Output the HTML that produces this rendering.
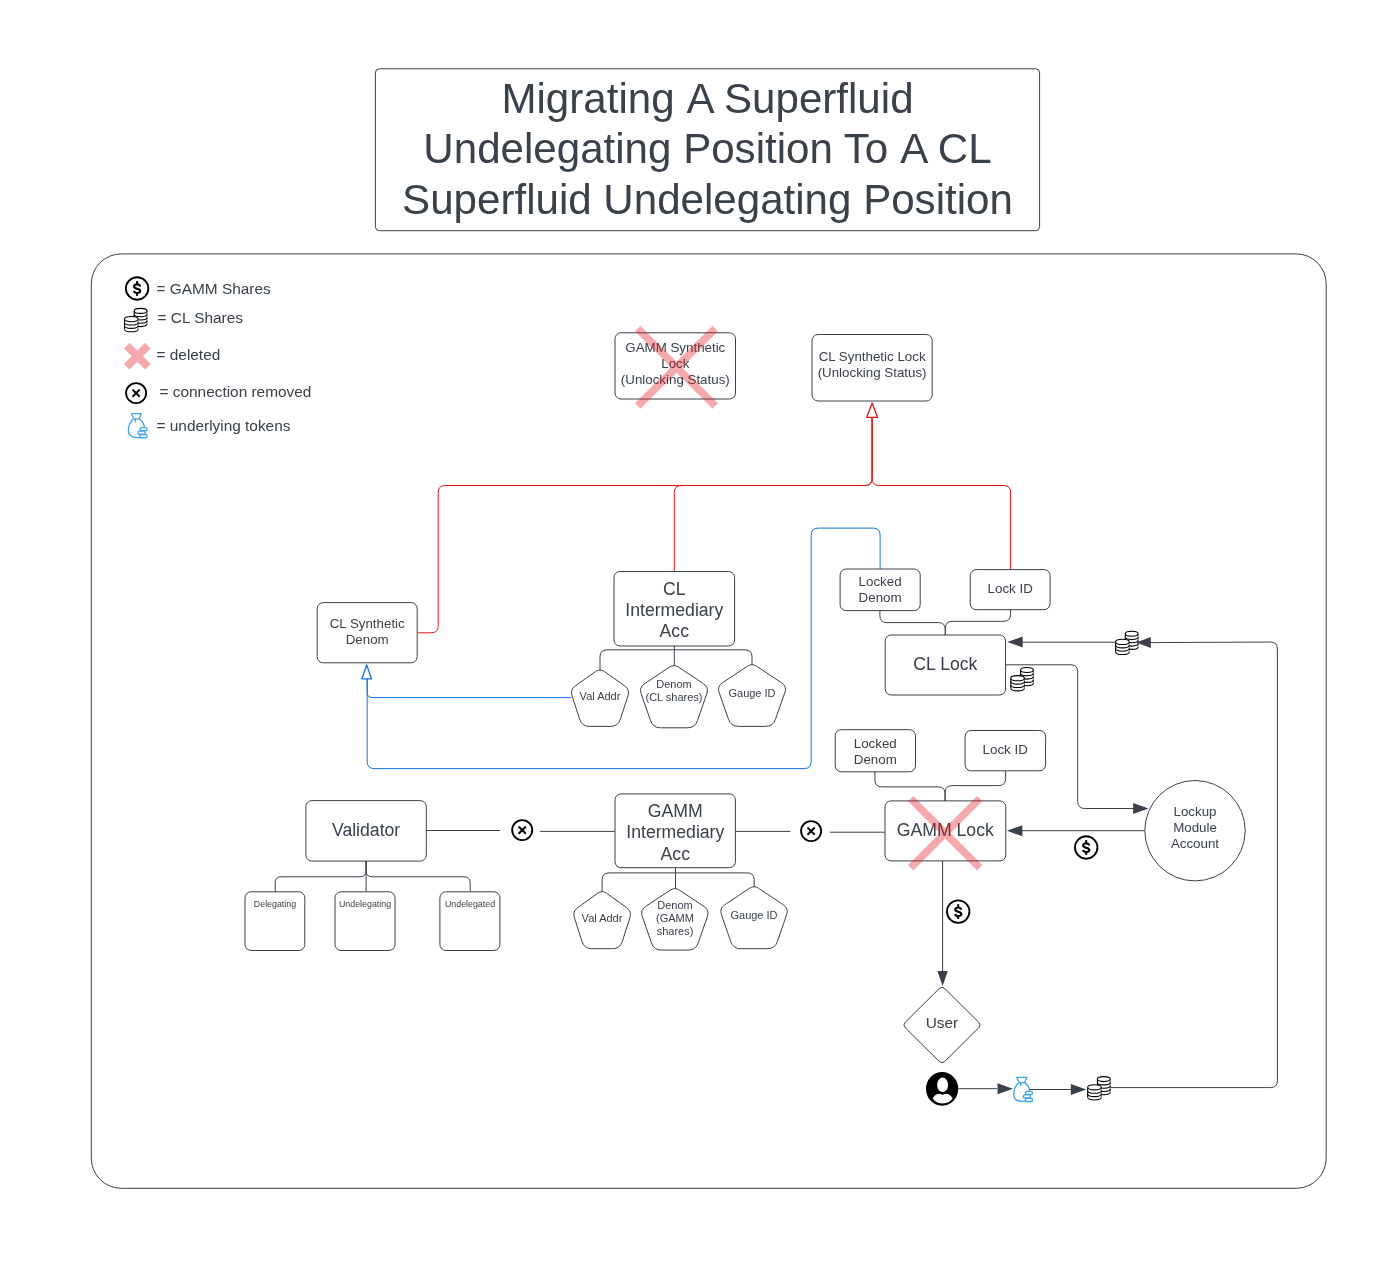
<!DOCTYPE html>
<html><head><meta charset="utf-8"><title>Migrating A Superfluid Undelegating Position</title>
<style>html,body{margin:0;padding:0;background:#fff}svg{display:block;will-change:transform}text{font-family:"Liberation Sans",sans-serif;fill:#3a414a}</style>
</head><body>
<svg width="1395" height="1285" viewBox="0 0 1395 1285">
<rect width="1395" height="1285" fill="#fff"/>
<rect x="375.40" y="68.80" width="664.20" height="161.90" rx="4" fill="#fff" stroke="#3a414a" stroke-width="1"/>
<text x="707.50" y="112.60" font-size="42.1" text-anchor="middle">Migrating <tspan dx="2.6">A</tspan> Superfluid</text>
<text x="707.50" y="163.00" font-size="42.1" text-anchor="middle">Undelegating Position To <tspan dx="2.7">A</tspan> CL</text>
<text x="707.50" y="214.30" font-size="42.1" text-anchor="middle">Superfluid Undelegating Position</text>
<rect x="91.30" y="253.90" width="1234.90" height="934.40" rx="30" fill="none" stroke="#3a414a" stroke-width="1"/>
<circle cx="137.10" cy="288.50" r="11.25" fill="#fff" stroke="#000" stroke-width="1.85"/>
<g transform="translate(137.10 288.50) scale(1.0)">
<path d="M3.05 -1.9 C2.7 -3.5 1.6 -4.1 0 -4.1 C-1.8 -4.1 -3.05 -3.3 -3.05 -2.0 C-3.05 -0.6 -1.6 -0.2 0 0.25 C1.8 0.75 3.15 1.2 3.15 2.5 C3.15 3.7 1.9 4.45 0 4.45 C-1.7 4.45 -2.85 3.8 -3.15 2.35" fill="none" stroke="#000" stroke-width="2.1"/>
<rect x="-1" y="-7.4" width="2" height="3.2" fill="#000"/><rect x="-1" y="4.5" width="2" height="2.9" fill="#000"/>
</g>
<text x="156.50" y="293.85" font-size="15.4" text-anchor="start">= GAMM Shares</text>
<g transform="translate(124.00 307.90) scale(1.0)" fill="#fff" stroke="#000" stroke-width="1.08">
<path d="M10.20 3.00 L10.20 16.20 A6.40 2.50 0 0 0 23.00 16.20 L23.00 3.00 Z" stroke="none"/>
<path d="M10.20 3.00 L10.20 16.20" fill="none"/>
<path d="M23.00 3.00 L23.00 16.20" fill="none" stroke-width="0.6"/>
<path d="M10.20 6.30 A6.40 2.50 0 0 0 23.00 6.30" fill="none"/>
<path d="M10.20 9.60 A6.40 2.50 0 0 0 23.00 9.60" fill="none"/>
<path d="M10.20 12.90 A6.40 2.50 0 0 0 23.00 12.90" fill="none"/>
<path d="M10.20 16.20 A6.40 2.50 0 0 0 23.00 16.20" fill="none"/>
<ellipse cx="16.60" cy="3.00" rx="6.40" ry="2.50"/>
<path d="M0.50 11.20 L0.50 21.25 A6.80 2.60 0 0 0 14.10 21.25 L14.10 11.20 Z" stroke="none"/>
<path d="M0.50 11.20 L0.50 21.25" fill="none"/>
<path d="M14.10 11.20 L14.10 21.25" fill="none" stroke-width="0.6"/>
<path d="M0.50 14.55 A6.80 2.60 0 0 0 14.10 14.55" fill="none"/>
<path d="M0.50 17.90 A6.80 2.60 0 0 0 14.10 17.90" fill="none"/>
<path d="M0.50 21.25 A6.80 2.60 0 0 0 14.10 21.25" fill="none"/>
<ellipse cx="7.30" cy="11.20" rx="6.80" ry="2.60"/>
</g>
<text x="157.50" y="323.00" font-size="15.4" text-anchor="start">= CL Shares</text>
<g opacity="0.36">
<rect x="122.35" y="352.20" width="29.90" height="8.00" transform="rotate(45 137.30 356.20)" fill="#e8141c"/>
<rect x="122.35" y="352.20" width="29.90" height="8.00" transform="rotate(-45 137.30 356.20)" fill="#e8141c"/>
</g>
<text x="156.50" y="359.95" font-size="15.4" text-anchor="start">= deleted</text>
<circle cx="136.10" cy="393.10" r="10.05" fill="#fff" stroke="#000" stroke-width="1.85"/>
<path d="M133.20 390.20 L139.00 396.00 M139.00 390.20 L133.20 396.00" stroke="#000" stroke-width="2" stroke-linecap="square" fill="none"/>
<text x="159.50" y="396.60" font-size="15.4" text-anchor="start">= connection removed</text>
<g transform="translate(127.80 412.90) scale(1.0)" fill="none" stroke="#42a5f5" stroke-width="1.35" stroke-linejoin="round" stroke-linecap="round">
<path d="M3.6 0.7 L13.6 0.7 L11.4 5.9 L5.8 5.9 Z"/>
<path d="M5.8 5.9 C2.6 8.6 0.6 12.6 0.6 17.2 C0.6 22.4 3.8 24.7 9.0 24.7 L11.6 24.7 M11.4 5.9 C14.4 8.2 16.3 11.2 16.6 14.6"/>
<path d="M7.5 6.2 L7.5 8.8"/>
<rect x="12.15" y="14.65" width="7.2" height="3.1" rx="1.55" fill="#fff"/>
<rect x="10.15" y="18.20" width="7.2" height="3.1" rx="1.55" fill="#fff"/>
<rect x="12.15" y="21.75" width="7.2" height="3.1" rx="1.55" fill="#fff"/>
</g>
<text x="156.50" y="430.75" font-size="15.4" text-anchor="start">= underlying tokens</text>
<rect x="615.00" y="332.80" width="120.50" height="66.20" rx="6" fill="#fff" stroke="#3a414a" stroke-width="1"/>
<text x="675.30" y="351.50" font-size="13.33" text-anchor="middle">GAMM Synthetic</text>
<text x="675.30" y="367.60" font-size="13.33" text-anchor="middle">Lock</text>
<text x="675.30" y="383.60" font-size="13.33" text-anchor="middle">(Unlocking Status)</text>
<g opacity="0.36">
<rect x="621.66" y="363.45" width="109.68" height="7.70" transform="rotate(45 676.50 367.30)" fill="#e8141c"/>
<rect x="621.66" y="363.45" width="109.68" height="7.70" transform="rotate(-45 676.50 367.30)" fill="#e8141c"/>
</g>
<rect x="812.00" y="334.50" width="120.20" height="66.50" rx="6" fill="#fff" stroke="#3a414a" stroke-width="1"/>
<text x="872.10" y="361.30" font-size="13.33" text-anchor="middle">CL Synthetic Lock</text>
<text x="872.10" y="377.30" font-size="13.33" text-anchor="middle">(Unlocking Status)</text>
<path d="M417.50 632.80 L431.20 632.80 Q438.20 632.80 438.20 625.80 L438.20 492.50 Q438.20 485.50 445.20 485.50 L865.10 485.50 Q872.10 485.50 872.10 478.50 L872.10 417.00" fill="none" stroke="#e81313" stroke-width="1"/>
<path d="M674.30 571.50 L674.30 492.50 Q674.30 485.50 681.30 485.50 L865.10 485.50 Q872.10 485.50 872.10 478.50 L872.10 417.00" fill="none" stroke="#e81313" stroke-width="1"/>
<path d="M1010.60 569.60 L1010.60 492.50 Q1010.60 485.50 1003.60 485.50 L879.10 485.50 Q872.10 485.50 872.10 478.50 L872.10 417.00" fill="none" stroke="#e81313" stroke-width="1"/>
<path d="M872.10 403.00 L877.50 417.30 L866.70 417.30 Z" fill="#fff" stroke="#e81313" stroke-width="1.3" stroke-linejoin="round"/>
<path d="M571.30 697.60 L372.20 697.60 Q367.20 697.60 367.20 692.60 L367.20 679.00" fill="none" stroke="#1071e5" stroke-width="1"/>
<path d="M880.10 569.00 L880.10 535.10 Q880.10 528.10 873.10 528.10 L818.20 528.10 Q811.20 528.10 811.20 535.10 L811.20 761.60 Q811.20 768.60 804.20 768.60 L374.20 768.60 Q367.20 768.60 367.20 761.60 L367.20 679.00" fill="none" stroke="#1071e5" stroke-width="1"/>
<path d="M366.70 665.00 L371.50 678.80 L361.90 678.80 Z" fill="#fff" stroke="#1071e5" stroke-width="1.3" stroke-linejoin="round"/>
<rect x="317.20" y="602.60" width="100.00" height="60.20" rx="6" fill="#fff" stroke="#3a414a" stroke-width="1"/>
<text x="367.20" y="627.60" font-size="13.33" text-anchor="middle">CL Synthetic</text>
<text x="367.20" y="643.60" font-size="13.33" text-anchor="middle">Denom</text>
<path d="M674.30 649.80 L607.00 649.80 Q600.00 649.80 600.00 656.80 L600.00 670.50" fill="none" stroke="#3a414a" stroke-width="1"/>
<path d="M674.30 649.80 L745.00 649.80 Q752.00 649.80 752.00 656.80 L752.00 665.30" fill="none" stroke="#3a414a" stroke-width="1"/>
<path d="M674.30 646.00 L674.30 666.20" fill="none" stroke="#3a414a" stroke-width="1"/>
<rect x="614.00" y="571.50" width="120.60" height="74.50" rx="6" fill="#fff" stroke="#3a414a" stroke-width="1"/>
<text x="674.30" y="594.90" font-size="17.65" text-anchor="middle">CL</text>
<text x="674.30" y="616.10" font-size="17.65" text-anchor="middle">Intermediary</text>
<text x="674.30" y="637.40" font-size="17.65" text-anchor="middle">Acc</text>
<path d="M595.51 671.58 Q600.00 668.40 604.49 671.58 L624.69 685.87 Q630.00 689.63 627.98 695.81 L620.33 719.27 Q618.00 726.40 610.50 726.40 L589.50 726.40 Q582.00 726.40 579.67 719.27 L572.02 695.81 Q570.00 689.63 575.31 685.87 Z" fill="#fff" stroke="#3a414a" stroke-width="1"/>
<path d="M669.42 667.15 Q674.00 664.10 678.58 667.15 L703.59 683.81 Q709.00 687.41 706.87 693.56 L697.46 720.71 Q695.00 727.80 687.50 727.80 L660.50 727.80 Q653.00 727.80 650.54 720.71 L641.13 693.56 Q639.00 687.41 644.41 683.81 Z" fill="#fff" stroke="#3a414a" stroke-width="1"/>
<path d="M747.41 666.23 Q752.00 663.20 756.59 666.23 L781.58 682.75 Q787.00 686.33 784.86 692.47 L775.47 719.32 Q773.00 726.40 765.50 726.40 L738.50 726.40 Q731.00 726.40 728.53 719.32 L719.14 692.47 Q717.00 686.33 722.42 682.75 Z" fill="#fff" stroke="#3a414a" stroke-width="1"/>
<text x="600.00" y="699.80" font-size="11" text-anchor="middle">Val Addr</text>
<text x="674.00" y="687.70" font-size="11" text-anchor="middle">Denom</text>
<text x="674.00" y="700.90" font-size="11" text-anchor="middle">(CL shares)</text>
<text x="752.00" y="696.60" font-size="11" text-anchor="middle">Gauge ID</text>
<path d="M879.90 610.60 L879.90 615.60 Q879.90 622.60 886.90 622.60 L938.30 622.60 Q945.30 622.60 945.30 629.60 L945.30 635.00" fill="none" stroke="#3a414a" stroke-width="1"/>
<path d="M1010.60 609.70 L1010.60 614.30 Q1010.60 621.30 1003.60 621.30 L952.30 621.30 Q945.30 621.30 945.30 628.30 L945.30 635.00" fill="none" stroke="#3a414a" stroke-width="1"/>
<rect x="840.10" y="569.00" width="80.10" height="41.60" rx="6" fill="#fff" stroke="#3a414a" stroke-width="1"/>
<text x="880.10" y="586.40" font-size="13.33" text-anchor="middle">Locked</text>
<text x="880.10" y="602.40" font-size="13.33" text-anchor="middle">Denom</text>
<rect x="970.20" y="569.60" width="79.90" height="40.10" rx="6" fill="#fff" stroke="#3a414a" stroke-width="1"/>
<text x="1010.20" y="593.20" font-size="13.33" text-anchor="middle">Lock ID</text>
<rect x="885.20" y="635.00" width="120.40" height="60.00" rx="6" fill="#fff" stroke="#3a414a" stroke-width="1"/>
<text x="945.40" y="669.60" font-size="17.65" text-anchor="middle">CL Lock</text>
<g transform="translate(1010.30 667.00) scale(1.0)" fill="#fff" stroke="#000" stroke-width="1.08">
<path d="M10.20 3.00 L10.20 16.20 A6.40 2.50 0 0 0 23.00 16.20 L23.00 3.00 Z" stroke="none"/>
<path d="M10.20 3.00 L10.20 16.20" fill="none"/>
<path d="M23.00 3.00 L23.00 16.20" fill="none" stroke-width="0.6"/>
<path d="M10.20 6.30 A6.40 2.50 0 0 0 23.00 6.30" fill="none"/>
<path d="M10.20 9.60 A6.40 2.50 0 0 0 23.00 9.60" fill="none"/>
<path d="M10.20 12.90 A6.40 2.50 0 0 0 23.00 12.90" fill="none"/>
<path d="M10.20 16.20 A6.40 2.50 0 0 0 23.00 16.20" fill="none"/>
<ellipse cx="16.60" cy="3.00" rx="6.40" ry="2.50"/>
<path d="M0.50 11.20 L0.50 21.25 A6.80 2.60 0 0 0 14.10 21.25 L14.10 11.20 Z" stroke="none"/>
<path d="M0.50 11.20 L0.50 21.25" fill="none"/>
<path d="M14.10 11.20 L14.10 21.25" fill="none" stroke-width="0.6"/>
<path d="M0.50 14.55 A6.80 2.60 0 0 0 14.10 14.55" fill="none"/>
<path d="M0.50 17.90 A6.80 2.60 0 0 0 14.10 17.90" fill="none"/>
<path d="M0.50 21.25 A6.80 2.60 0 0 0 14.10 21.25" fill="none"/>
<ellipse cx="7.30" cy="11.20" rx="6.80" ry="2.60"/>
</g>
<g transform="translate(1115.10 630.70) scale(1.0)" fill="#fff" stroke="#000" stroke-width="1.08">
<path d="M10.20 3.00 L10.20 16.20 A6.40 2.50 0 0 0 23.00 16.20 L23.00 3.00 Z" stroke="none"/>
<path d="M10.20 3.00 L10.20 16.20" fill="none"/>
<path d="M23.00 3.00 L23.00 16.20" fill="none" stroke-width="0.6"/>
<path d="M10.20 6.30 A6.40 2.50 0 0 0 23.00 6.30" fill="none"/>
<path d="M10.20 9.60 A6.40 2.50 0 0 0 23.00 9.60" fill="none"/>
<path d="M10.20 12.90 A6.40 2.50 0 0 0 23.00 12.90" fill="none"/>
<path d="M10.20 16.20 A6.40 2.50 0 0 0 23.00 16.20" fill="none"/>
<ellipse cx="16.60" cy="3.00" rx="6.40" ry="2.50"/>
<path d="M0.50 11.20 L0.50 21.25 A6.80 2.60 0 0 0 14.10 21.25 L14.10 11.20 Z" stroke="none"/>
<path d="M0.50 11.20 L0.50 21.25" fill="none"/>
<path d="M14.10 11.20 L14.10 21.25" fill="none" stroke-width="0.6"/>
<path d="M0.50 14.55 A6.80 2.60 0 0 0 14.10 14.55" fill="none"/>
<path d="M0.50 17.90 A6.80 2.60 0 0 0 14.10 17.90" fill="none"/>
<path d="M0.50 21.25 A6.80 2.60 0 0 0 14.10 21.25" fill="none"/>
<ellipse cx="7.30" cy="11.20" rx="6.80" ry="2.60"/>
</g>
<path d="M1115.60 642.20 L1021.00 642.20" fill="none" stroke="#3a414a" stroke-width="1"/>
<path d="M1007.20 642.00 L1022.70 636.50 L1022.70 647.50 Z" fill="#3a414a"/>
<path d="M1110.50 1087.60 L1270.40 1087.60 Q1277.40 1087.60 1277.40 1080.60 L1277.40 649.00 Q1277.40 642.00 1270.40 642.03 L1150.00 642.60" fill="none" stroke="#3a414a" stroke-width="1"/>
<path d="M1136.20 642.60 L1150.80 637.10 L1150.80 648.10 Z" fill="#3a414a"/>
<path d="M1005.60 664.80 L1070.70 664.80 Q1077.70 664.80 1077.70 671.80 L1077.70 801.50 Q1077.70 808.50 1084.70 808.50 L1134.00 808.50" fill="none" stroke="#3a414a" stroke-width="1"/>
<path d="M1148.60 808.50 L1133.10 814.00 L1133.10 803.00 Z" fill="#3a414a"/>
<circle cx="1195" cy="830.7" r="50.2" fill="#fff" stroke="#3a414a" stroke-width="1"/>
<text x="1195.00" y="816.00" font-size="13.33" text-anchor="middle">Lockup</text>
<text x="1195.00" y="832.00" font-size="13.33" text-anchor="middle">Module</text>
<text x="1195.00" y="848.00" font-size="13.33" text-anchor="middle">Account</text>
<path d="M1144.80 830.70 L1021.00 830.70" fill="none" stroke="#3a414a" stroke-width="1"/>
<path d="M1006.90 830.70 L1022.40 825.20 L1022.40 836.20 Z" fill="#3a414a"/>
<circle cx="1086.20" cy="847.50" r="11.25" fill="#fff" stroke="#000" stroke-width="1.85"/>
<g transform="translate(1086.20 847.50) scale(1.0)">
<path d="M3.05 -1.9 C2.7 -3.5 1.6 -4.1 0 -4.1 C-1.8 -4.1 -3.05 -3.3 -3.05 -2.0 C-3.05 -0.6 -1.6 -0.2 0 0.25 C1.8 0.75 3.15 1.2 3.15 2.5 C3.15 3.7 1.9 4.45 0 4.45 C-1.7 4.45 -2.85 3.8 -3.15 2.35" fill="none" stroke="#000" stroke-width="2.1"/>
<rect x="-1" y="-7.4" width="2" height="3.2" fill="#000"/><rect x="-1" y="4.5" width="2" height="2.9" fill="#000"/>
</g>
<path d="M874.90 771.80 L874.90 779.90 Q874.90 786.90 881.90 786.90 L938.10 786.90 Q945.10 786.90 945.10 793.90 L945.10 801.00" fill="none" stroke="#3a414a" stroke-width="1"/>
<path d="M1005.60 770.80 L1005.60 778.60 Q1005.60 785.60 998.60 785.60 L952.10 785.60 Q945.10 785.60 945.10 792.60 L945.10 801.00" fill="none" stroke="#3a414a" stroke-width="1"/>
<rect x="835.20" y="729.70" width="80.30" height="42.10" rx="6" fill="#fff" stroke="#3a414a" stroke-width="1"/>
<text x="875.30" y="747.50" font-size="13.33" text-anchor="middle">Locked</text>
<text x="875.30" y="763.60" font-size="13.33" text-anchor="middle">Denom</text>
<rect x="965.10" y="730.50" width="80.50" height="40.30" rx="6" fill="#fff" stroke="#3a414a" stroke-width="1"/>
<text x="1005.20" y="753.90" font-size="13.33" text-anchor="middle">Lock ID</text>
<rect x="885.00" y="800.90" width="120.80" height="60.00" rx="6" fill="#fff" stroke="#3a414a" stroke-width="1"/>
<text x="945.30" y="835.70" font-size="17.65" text-anchor="middle">GAMM Lock</text>
<g opacity="0.36">
<rect x="896.39" y="829.40" width="97.62" height="7.60" transform="rotate(45 945.20 833.20)" fill="#e8141c"/>
<rect x="896.39" y="829.40" width="97.62" height="7.60" transform="rotate(-45 945.20 833.20)" fill="#e8141c"/>
</g>
<path d="M942.60 861.00 L942.60 971.00" fill="none" stroke="#3a414a" stroke-width="1"/>
<path d="M942.60 986.00 L937.40 971.00 L947.80 971.00 Z" fill="#3a414a"/>
<circle cx="958.20" cy="911.60" r="11.25" fill="#fff" stroke="#000" stroke-width="1.85"/>
<g transform="translate(958.20 911.60) scale(1.0)">
<path d="M3.05 -1.9 C2.7 -3.5 1.6 -4.1 0 -4.1 C-1.8 -4.1 -3.05 -3.3 -3.05 -2.0 C-3.05 -0.6 -1.6 -0.2 0 0.25 C1.8 0.75 3.15 1.2 3.15 2.5 C3.15 3.7 1.9 4.45 0 4.45 C-1.7 4.45 -2.85 3.8 -3.15 2.35" fill="none" stroke="#000" stroke-width="2.1"/>
<rect x="-1" y="-7.4" width="2" height="3.2" fill="#000"/><rect x="-1" y="4.5" width="2" height="2.9" fill="#000"/>
</g>
<path d="M939.16 988.62 Q942.00 985.80 944.84 988.62 L978.66 1022.18 Q981.50 1025.00 978.66 1027.82 L944.84 1061.38 Q942.00 1064.20 939.16 1061.38 L905.34 1027.82 Q902.50 1025.00 905.34 1022.18 Z" fill="#fff" stroke="#3a414a" stroke-width="1"/>
<text x="942.00" y="1028.40" font-size="15.4" text-anchor="middle">User</text>
<ellipse cx="942.10" cy="1088.90" rx="16.1" ry="16.8" fill="#000"/>
<g transform="translate(942.10 1088.90)">
<path d="M-9.2 9.7 C-8.9 7.4 -5.8 5.0 -3.3 4.8 L4.3 4.8 C6.8 5.0 10.0 7.4 10.3 9.7 C8.9 12.3 5.6 14.5 0.5 14.5 C-4.6 14.5 -7.8 12.3 -9.2 9.7 Z" fill="#fff"/>
<ellipse cx="0.5" cy="-4.1" rx="7.2" ry="10" fill="#000"/>
<ellipse cx="0.5" cy="-4.1" rx="5.5" ry="7.2" fill="#fff"/>
</g>
<path d="M958.40 1088.70 L997.00 1088.70" fill="none" stroke="#3a414a" stroke-width="1"/>
<path d="M1013.00 1088.70 L997.50 1094.20 L997.50 1083.20 Z" fill="#3a414a"/>
<g transform="translate(1013.20 1076.70) scale(1.0)" fill="none" stroke="#42a5f5" stroke-width="1.35" stroke-linejoin="round" stroke-linecap="round">
<path d="M3.6 0.7 L13.6 0.7 L11.4 5.9 L5.8 5.9 Z"/>
<path d="M5.8 5.9 C2.6 8.6 0.6 12.6 0.6 17.2 C0.6 22.4 3.8 24.7 9.0 24.7 L11.6 24.7 M11.4 5.9 C14.4 8.2 16.3 11.2 16.6 14.6"/>
<path d="M7.5 6.2 L7.5 8.8"/>
<rect x="12.15" y="14.65" width="7.2" height="3.1" rx="1.55" fill="#fff"/>
<rect x="10.15" y="18.20" width="7.2" height="3.1" rx="1.55" fill="#fff"/>
<rect x="12.15" y="21.75" width="7.2" height="3.1" rx="1.55" fill="#fff"/>
</g>
<path d="M1029.60 1089.50 L1072.00 1089.50" fill="none" stroke="#3a414a" stroke-width="1"/>
<path d="M1086.30 1089.50 L1070.80 1095.00 L1070.80 1084.00 Z" fill="#3a414a"/>
<g transform="translate(1087.20 1076.10) scale(1.0)" fill="#fff" stroke="#000" stroke-width="1.08">
<path d="M10.20 3.00 L10.20 16.20 A6.40 2.50 0 0 0 23.00 16.20 L23.00 3.00 Z" stroke="none"/>
<path d="M10.20 3.00 L10.20 16.20" fill="none"/>
<path d="M23.00 3.00 L23.00 16.20" fill="none" stroke-width="0.6"/>
<path d="M10.20 6.30 A6.40 2.50 0 0 0 23.00 6.30" fill="none"/>
<path d="M10.20 9.60 A6.40 2.50 0 0 0 23.00 9.60" fill="none"/>
<path d="M10.20 12.90 A6.40 2.50 0 0 0 23.00 12.90" fill="none"/>
<path d="M10.20 16.20 A6.40 2.50 0 0 0 23.00 16.20" fill="none"/>
<ellipse cx="16.60" cy="3.00" rx="6.40" ry="2.50"/>
<path d="M0.50 11.20 L0.50 21.25 A6.80 2.60 0 0 0 14.10 21.25 L14.10 11.20 Z" stroke="none"/>
<path d="M0.50 11.20 L0.50 21.25" fill="none"/>
<path d="M14.10 11.20 L14.10 21.25" fill="none" stroke-width="0.6"/>
<path d="M0.50 14.55 A6.80 2.60 0 0 0 14.10 14.55" fill="none"/>
<path d="M0.50 17.90 A6.80 2.60 0 0 0 14.10 17.90" fill="none"/>
<path d="M0.50 21.25 A6.80 2.60 0 0 0 14.10 21.25" fill="none"/>
<ellipse cx="7.30" cy="11.20" rx="6.80" ry="2.60"/>
</g>
<path d="M366.10 861.00 L366.10 870.80 Q366.10 876.80 360.10 876.80 L281.20 876.80 Q275.20 876.80 275.20 882.80 L275.20 892.00" fill="none" stroke="#3a414a" stroke-width="1"/>
<path d="M366.10 861.00 L366.10 870.80 Q366.10 876.80 372.10 876.80 L464.20 876.80 Q470.20 876.80 470.20 882.80 L470.20 892.00" fill="none" stroke="#3a414a" stroke-width="1"/>
<path d="M366.10 861.00 L366.10 892.00" fill="none" stroke="#3a414a" stroke-width="1"/>
<rect x="305.90" y="800.60" width="120.40" height="60.50" rx="6" fill="#fff" stroke="#3a414a" stroke-width="1"/>
<text x="366.10" y="835.90" font-size="17.65" text-anchor="middle">Validator</text>
<rect x="245.00" y="891.80" width="59.80" height="58.70" rx="6" fill="#fff" stroke="#3a414a" stroke-width="1"/>
<text x="275.00" y="907.10" font-size="8.85" text-anchor="middle">Delegating</text>
<rect x="335.00" y="891.80" width="60.00" height="58.70" rx="6" fill="#fff" stroke="#3a414a" stroke-width="1"/>
<text x="365.00" y="907.10" font-size="8.85" text-anchor="middle">Undelegating</text>
<rect x="439.90" y="891.80" width="60.00" height="58.70" rx="6" fill="#fff" stroke="#3a414a" stroke-width="1"/>
<text x="470.00" y="907.10" font-size="8.85" text-anchor="middle">Undelegated</text>
<path d="M426.30 830.50 L500.00 830.50" fill="none" stroke="#3a414a" stroke-width="1"/>
<circle cx="522.20" cy="830.10" r="10.05" fill="#fff" stroke="#000" stroke-width="1.85"/>
<path d="M519.30 827.20 L525.10 833.00 M525.10 827.20 L519.30 833.00" stroke="#000" stroke-width="2" stroke-linecap="square" fill="none"/>
<path d="M540.00 831.40 L615.00 831.40" fill="none" stroke="#3a414a" stroke-width="1"/>
<path d="M675.50 872.90 L609.10 872.90 Q602.10 872.90 602.10 879.90 L602.10 892.00" fill="none" stroke="#3a414a" stroke-width="1"/>
<path d="M675.50 872.90 L747.20 872.90 Q754.20 872.90 754.20 879.90 L754.20 887.30" fill="none" stroke="#3a414a" stroke-width="1"/>
<path d="M675.50 867.70 L675.50 889.20" fill="none" stroke="#3a414a" stroke-width="1"/>
<rect x="615.00" y="793.90" width="120.40" height="73.80" rx="6" fill="#fff" stroke="#3a414a" stroke-width="1"/>
<text x="675.30" y="817.00" font-size="17.65" text-anchor="middle">GAMM</text>
<text x="675.30" y="838.40" font-size="17.65" text-anchor="middle">Intermediary</text>
<text x="675.30" y="859.70" font-size="17.65" text-anchor="middle">Acc</text>
<path d="M597.69 893.22 Q602.15 890.00 606.61 893.22 L626.63 907.68 Q631.90 911.48 629.92 917.68 L622.28 941.56 Q620.00 948.70 612.50 948.70 L591.80 948.70 Q584.30 948.70 582.02 941.56 L574.38 917.68 Q572.40 911.48 577.67 907.68 Z" fill="#fff" stroke="#3a414a" stroke-width="1"/>
<path d="M670.27 890.14 Q674.85 887.10 679.43 890.14 L704.18 906.56 Q709.60 910.16 707.46 916.30 L698.17 943.02 Q695.70 950.10 688.20 950.10 L661.50 950.10 Q654.00 950.10 651.53 943.02 L642.24 916.30 Q640.10 910.16 645.52 906.56 Z" fill="#fff" stroke="#3a414a" stroke-width="1"/>
<path d="M749.48 888.26 Q754.05 885.20 758.62 888.26 L783.40 904.83 Q788.80 908.44 786.68 914.59 L777.35 941.61 Q774.90 948.70 767.40 948.70 L740.70 948.70 Q733.20 948.70 730.75 941.61 L721.42 914.59 Q719.30 908.44 724.70 904.83 Z" fill="#fff" stroke="#3a414a" stroke-width="1"/>
<text x="602.00" y="922.10" font-size="11" text-anchor="middle">Val Addr</text>
<text x="675.00" y="908.70" font-size="11" text-anchor="middle">Denom</text>
<text x="675.00" y="922.00" font-size="11" text-anchor="middle">(GAMM</text>
<text x="675.00" y="935.30" font-size="11" text-anchor="middle">shares)</text>
<text x="754.00" y="918.90" font-size="11" text-anchor="middle">Gauge ID</text>
<path d="M735.40 831.40 L790.30 831.40" fill="none" stroke="#3a414a" stroke-width="1"/>
<circle cx="811.10" cy="831.10" r="10.05" fill="#fff" stroke="#000" stroke-width="1.85"/>
<path d="M808.20 828.20 L814.00 834.00 M814.00 828.20 L808.20 834.00" stroke="#000" stroke-width="2" stroke-linecap="square" fill="none"/>
<path d="M829.80 832.20 L885.00 832.20" fill="none" stroke="#3a414a" stroke-width="1"/>
</svg></body></html>
